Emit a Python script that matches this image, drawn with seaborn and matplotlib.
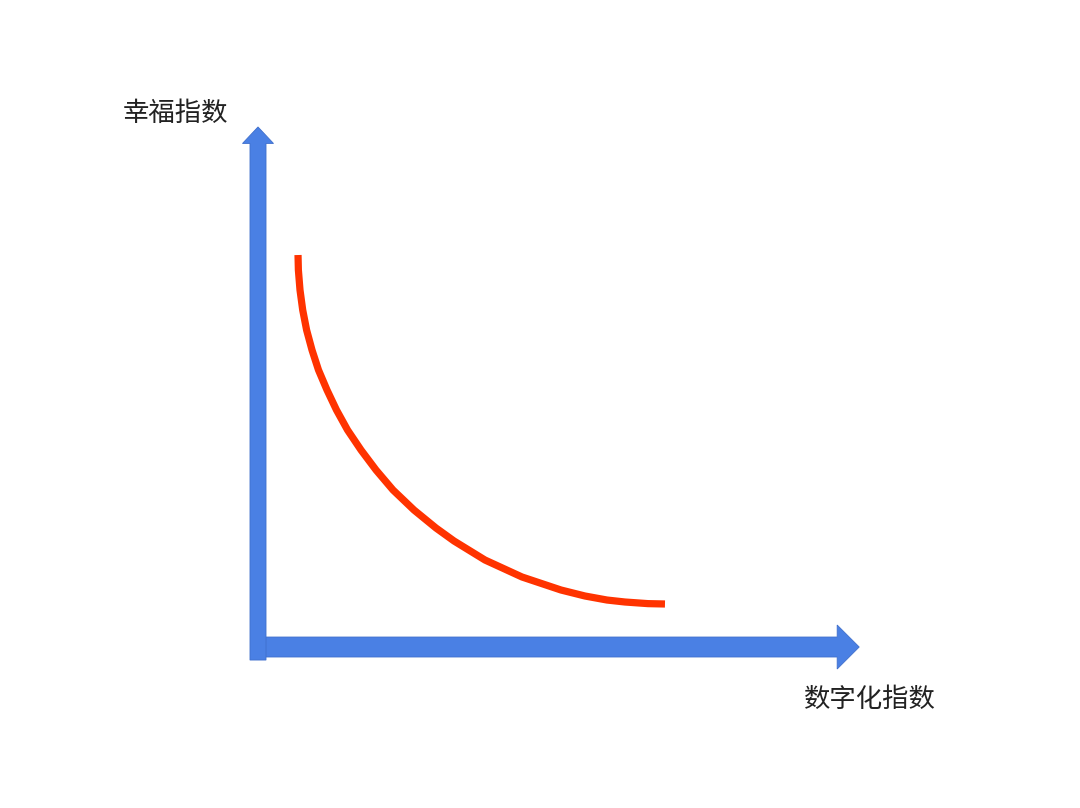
import matplotlib
matplotlib.use("Agg")
import matplotlib.pyplot as plt
from matplotlib.patches import FancyArrow
import seaborn as sns
import pandas as pd

sns.set_theme(style="white")
plt.rcParams['font.family'] = ['Noto Sans CJK SC', 'DejaVu Sans']

# Data: curve (digitalization index vs happiness index)
digital_index = [0.667, 0.673, 0.700, 0.745, 0.810, 0.900, 1.008, 1.150, 1.308,
                 1.492, 1.717, 1.967, 2.250, 2.600, 2.967, 3.267, 3.783, 4.400,
                 5.050, 5.450, 5.817, 6.117, 6.500, 6.783]
happiness_index = [6.533, 6.283, 5.950, 5.617, 5.283, 4.950, 4.617, 4.283, 3.950,
                   3.617, 3.283, 2.950, 2.617, 2.283, 1.983, 1.767, 1.450, 1.167,
                   0.950, 0.850, 0.783, 0.750, 0.723, 0.717]
x_label = "数字化指数"
y_label = "幸福指数"

df = pd.DataFrame({"x": digital_index, "y": happiness_index})

fig = plt.figure(figsize=(10.8, 8.08), dpi=100)
fig.patch.set_facecolor("white")
ax = fig.add_axes([0, 0, 1, 1])

blue = "#4a80e4"
edge = "#3f6fcc"

# horizontal axis arrow
ax.add_patch(FancyArrow(-0.12, 0.0, 10.14, 0.0, width=0.333, head_width=0.733,
                        head_length=0.367, length_includes_head=True,
                        facecolor=blue, edgecolor=edge, linewidth=0.6, zorder=2))
# vertical axis arrow
ax.add_patch(FancyArrow(0.0, -0.217, 0.0, 8.884, width=0.267, head_width=0.517,
                        head_length=0.275, length_includes_head=True,
                        facecolor=blue, edgecolor=edge, linewidth=0.6, zorder=3))

sns.lineplot(data=df, x="x", y="y", sort=False, ax=ax, color="#ff3300",
             linewidth=5.2, zorder=4, solid_capstyle="butt", solid_joinstyle="round")
ax.set_xlim(-4.3, 13.7)
ax.set_ylim(-2.683, 10.783)
ax.set_axis_off()

ax.text(-1.367, 8.9, y_label, fontsize=19, color="#222222", ha="center", va="center")
ax.text(10.2, -0.867, x_label, fontsize=19, color="#222222", ha="center", va="center")

fig.savefig("out.png", dpi=100, facecolor="white")
